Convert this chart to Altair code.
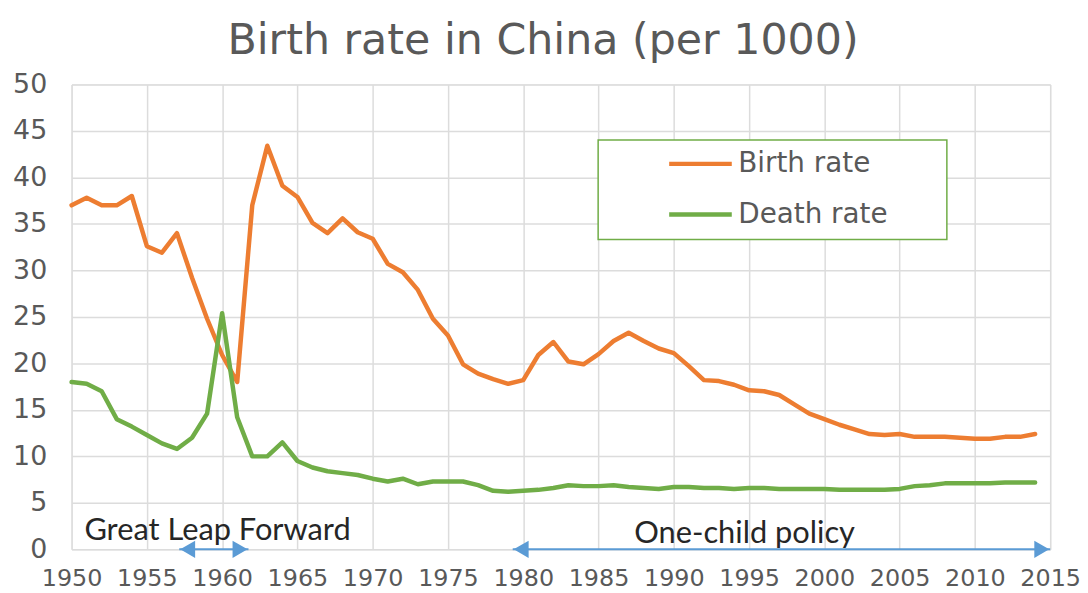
import altair as alt
import pandas as pd

years = list(range(1950, 2015))
birth_rate = [37.0, 37.8, 37.0, 37.0, 38.0, 32.6, 31.9, 34.0, 29.2, 24.8,
              20.9, 18.0, 37.0, 43.4, 39.1, 37.9, 35.1, 34.0, 35.6, 34.1,
              33.4, 30.7, 29.8, 27.9, 24.8, 23.0, 19.9, 18.9, 18.3, 17.8,
              18.2, 20.9, 22.3, 20.2, 19.9, 21.0, 22.4, 23.3, 22.4, 21.6,
              21.1, 19.7, 18.2, 18.1, 17.7, 17.1, 17.0, 16.6, 15.6, 14.6,
              14.0, 13.4, 12.9, 12.4, 12.3, 12.4, 12.1, 12.1, 12.1, 12.0,
              11.9, 11.9, 12.1, 12.1, 12.4]
death_rate = [18.0, 17.8, 17.0, 14.0, 13.2, 12.3, 11.4, 10.8, 12.0, 14.6,
              25.4, 14.2, 10.0, 10.0, 11.5, 9.5, 8.8, 8.4, 8.2, 8.0,
              7.6, 7.3, 7.6, 7.0, 7.3, 7.3, 7.3, 6.9, 6.3, 6.2,
              6.3, 6.4, 6.6, 6.9, 6.8, 6.8, 6.9, 6.7, 6.6, 6.5,
              6.7, 6.7, 6.6, 6.6, 6.5, 6.6, 6.6, 6.5, 6.5, 6.5,
              6.5, 6.4, 6.4, 6.4, 6.4, 6.5, 6.8, 6.9, 7.1, 7.1,
              7.1, 7.1, 7.2, 7.2, 7.2]
series_names = ["Birth rate", "Death rate"]
series_colors = ["#ed7d31", "#70ad47"]

period_labels = ["Great Leap Forward", "One-child policy"]
period_start = [1957.15, 1979.3]
period_end = [1961.75, 2015.0]
label_x = [1950.85, 1994.7]
label_y = [1.0, 0.7]

x_ticks = list(range(1950, 2016, 5))
y_ticks = list(range(0, 51, 5))

AXIS_FONT = "DejaVu Sans"
ANNOT_FONT = "Lato"
ARROW = "#5b9bd5"
GRID = "#dcdcdc"
TEXT_GRAY = "#595959"

rows = []
for y, b, d in zip(years, birth_rate, death_rate):
    rows.append({"year": y, "series": series_names[0], "value": b})
    rows.append({"year": y, "series": series_names[1], "value": d})
df = pd.DataFrame(rows)

periods = pd.DataFrame({"label": period_labels, "start": period_start,
                        "end": period_end, "lx": label_x, "ly": label_y,
                        "zero": [0, 0]})

xscale = alt.Scale(domain=[1950, 2015], nice=False, zero=False)
yscale = alt.Scale(domain=[0, 50], nice=False)

lines = alt.Chart(df).mark_line(strokeWidth=4.5, strokeJoin="round", strokeCap="round").encode(
    x=alt.X("year:Q", scale=xscale,
            axis=alt.Axis(values=x_ticks, format="d", title=None, labelFontSize=24,
                          labelFont=AXIS_FONT, labelColor=TEXT_GRAY, labelPadding=17,
                          tickSize=0, domain=False, gridColor=GRID,
                          gridWidth=1.5, labelFlush=False)),
    y=alt.Y("value:Q", scale=yscale,
            axis=alt.Axis(values=y_ticks, title=None, labelFontSize=27,
                          labelFont=AXIS_FONT, labelColor=TEXT_GRAY, labelPadding=25,
                          tickSize=0, domain=False, gridColor=GRID,
                          gridWidth=1.5)),
    color=alt.Color("series:N",
                    scale=alt.Scale(domain=series_names, range=series_colors),
                    legend=alt.Legend(orient="none", legendX=599, legendY=65,
                                      title=None, symbolType="stroke",
                                      symbolSize=3969, symbolStrokeWidth=4.5,
                                      clipHeight=30, rowPadding=21, labelOffset=4,
                                      labelFontSize=28, labelFont=AXIS_FONT,
                                      labelColor=TEXT_GRAY, padding=0)),
)

legend_box = alt.Chart(pd.DataFrame({"k": [0]})).mark_rect(
    fill="white", stroke="#70ad47", strokeWidth=1.5
).encode(x=alt.value(530), x2=alt.value(881), y=alt.value(56), y2=alt.value(156))

base_p = alt.Chart(periods)
arrow_line = base_p.mark_rule(color=ARROW, strokeWidth=2).encode(
    x=alt.X("start:Q", scale=xscale), x2="end:Q", y=alt.Y("zero:Q", scale=yscale))
arrow_left = base_p.mark_point(shape="triangle-left", filled=True, size=300,
                               color=ARROW, opacity=1, xOffset=8.5).encode(
    x=alt.X("start:Q", scale=xscale), y=alt.Y("zero:Q", scale=yscale))
arrow_right = base_p.mark_point(shape="triangle-right", filled=True, size=300,
                                color=ARROW, opacity=1, xOffset=-8.5).encode(
    x=alt.X("end:Q", scale=xscale), y=alt.Y("zero:Q", scale=yscale))

text_left = alt.Chart(periods.iloc[[0]]).mark_text(
    font=ANNOT_FONT, fontSize=31, color="#262626", align="left", baseline="alphabetic"
).encode(x=alt.X("lx:Q", scale=xscale), y=alt.Y("ly:Q", scale=yscale), text="label:N")
text_center = alt.Chart(periods.iloc[[1]]).mark_text(
    font=ANNOT_FONT, fontSize=31, color="#262626", align="center", baseline="alphabetic"
).encode(x=alt.X("lx:Q", scale=xscale), y=alt.Y("ly:Q", scale=yscale), text="label:N")

chart = alt.layer(legend_box, arrow_line, lines, arrow_left, arrow_right,
                  text_left, text_center).properties(
    width=985, height=468,
    title=alt.TitleParams("Birth rate in China (per 1000)", fontSize=43,
                          font=AXIS_FONT, fontWeight="normal", color=TEXT_GRAY,
                          anchor="middle", offset=8, dx=-18),
    autosize=alt.AutoSizeParams(type="none"),
    padding={"left": 64, "top": 75, "right": 30, "bottom": 40},
).configure_view(stroke=None).configure(background="white")

chart.save("out.html", embed_options={"renderer": "svg", "actions": False})
